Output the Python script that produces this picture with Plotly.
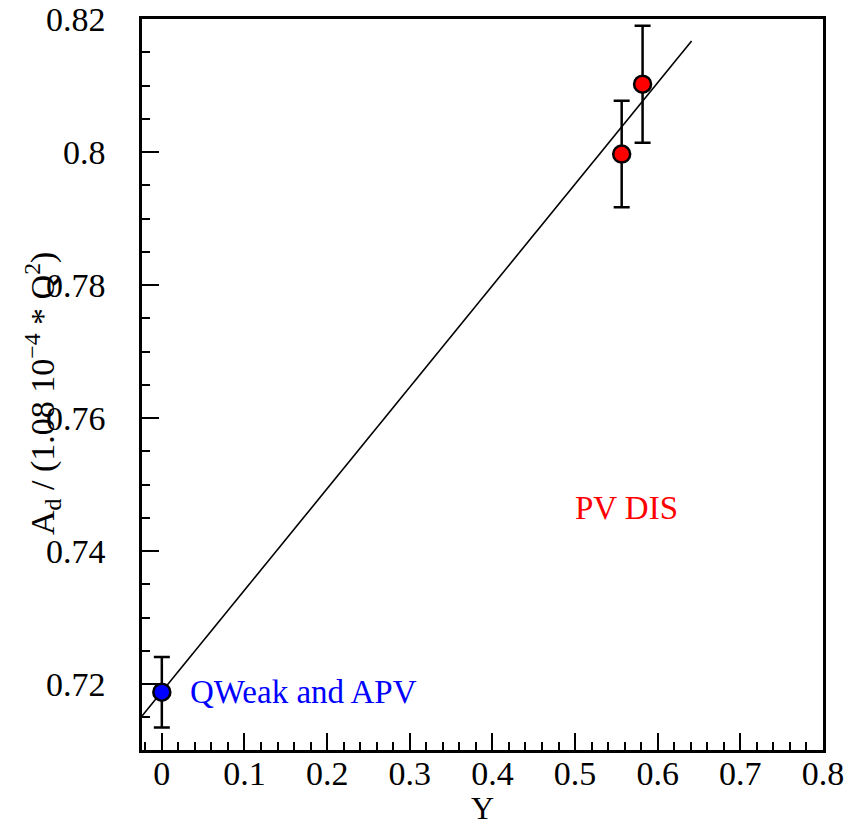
import plotly.graph_objects as go

# Data
qweak_y_val = [0.0]
qweak_a = [0.7188]
qweak_err = [0.0053]

pvdis_y_val = [0.5564, 0.5817]
pvdis_a = [0.7997, 0.8102]
pvdis_err = [0.0080, 0.0088]

fit_x = [-0.024, 0.641]
fit_a = [0.7152, 0.8167]

x_range = [-0.024, 0.8]
y_range = [0.7101, 0.82]

FONT = "Times New Roman"

fig = go.Figure()

fig.add_trace(go.Scatter(
    x=fit_x, y=fit_a, mode="lines",
    line=dict(color="black", width=1.6),
    hoverinfo="skip", showlegend=False))

fig.add_trace(go.Scatter(
    x=qweak_y_val, y=qweak_a, mode="markers",
    marker=dict(color="#0000ff", size=17, line=dict(color="black", width=2.5)),
    error_y=dict(type="data", array=qweak_err, color="black", thickness=2.5, width=8),
    showlegend=False))

fig.add_trace(go.Scatter(
    x=pvdis_y_val, y=pvdis_a, mode="markers",
    marker=dict(color="#ff0000", size=17, line=dict(color="black", width=2.5)),
    error_y=dict(type="data", array=pvdis_err, color="black", thickness=2.5, width=8),
    showlegend=False))

axis_common = dict(
    showline=True, linecolor="black", linewidth=2.5, mirror=True,
    ticks="inside", ticklen=17, tickwidth=2, tickcolor="black",
    showgrid=False, zeroline=False, automargin=False,
    tickfont=dict(family=FONT, size=34, color="black"),
)

fig.update_xaxes(
    range=x_range, tick0=0, dtick=0.1,
    minor=dict(ticks="inside", ticklen=8, tickwidth=2, tickcolor="black", dtick=0.02, tick0=0, showgrid=False),
    ticklabelstandoff=-9,
    **axis_common)

fig.update_yaxes(
    range=y_range, tick0=0.72, dtick=0.02,
    minor=dict(ticks="inside", ticklen=8, tickwidth=2, tickcolor="black", dtick=0.005, tick0=0.72, showgrid=False),
    ticklabelstandoff=27,
    **axis_common)

fig.add_annotation(
    x=0.0315, y=0.7188, xref="x", yref="y", xanchor="left", yanchor="middle",
    text="QWeak and APV", showarrow=False,
    font=dict(family=FONT, size=33, color="#0000ff"))

fig.add_annotation(
    x=0.5628, y=0.7465, xref="x", yref="y", xanchor="center", yanchor="middle",
    text="PV DIS", showarrow=False,
    font=dict(family=FONT, size=33, color="#ff0000"))

fig.add_annotation(
    x=0.5, y=-0.079, xref="paper", yref="paper", xanchor="center", yanchor="middle",
    text="Y", showarrow=False,
    font=dict(family=FONT, size=32, color="black"))

fig.add_annotation(
    x=-0.1454, y=0.4884, xref="paper", yref="paper", xanchor="center", yanchor="middle",
    text="A<sub>d</sub> / (1.08 10<sup>−4</sup> * Q<sup>2</sup>)", textangle=-90, showarrow=False,
    font=dict(family=FONT, size=34, color="black"))

fig.update_layout(
    width=860, height=830,
    margin=dict(l=142, r=37, t=19, b=80),
    paper_bgcolor="white", plot_bgcolor="white",
    showlegend=False,
)

fig.write_html("out.html")
